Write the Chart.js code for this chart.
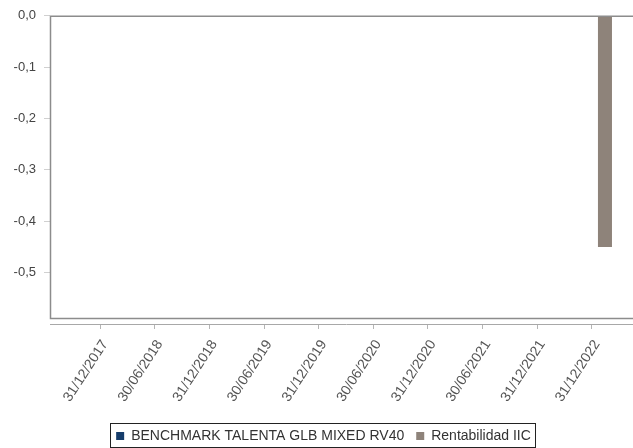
<!DOCTYPE html>
<html><head><meta charset="utf-8">
<script src="https://cdn.jsdelivr.net/npm/chart.js@4.4.1/dist/chart.umd.min.js"></script>
<style>
html,body{margin:0;padding:0;background:#fff;overflow:hidden;}
#wrap{position:relative;width:642px;height:455px;}
</style></head><body>
<div id="wrap"><canvas id="c"></canvas></div>
<script>
const categories = ['31/12/2017','30/06/2018','31/12/2018','30/06/2019','31/12/2019','30/06/2020','31/12/2020','30/06/2021','31/12/2021','31/12/2022'];
const benchmarkValues = [null,null,null,null,null,null,null,null,null,null];
const fundValues = [null,null,null,null,null,null,null,null,null,-0.45];
const yTicks = [0,-0.1,-0.2,-0.3,-0.4,-0.5];
const seriesNames = ['BENCHMARK TALENTA GLB MIXED RV40','Rentabilidad IIC'];

const FONT = 'Liberation Sans, Arial, sans-serif';

const framePlugin = {
  id:'frame',
  afterDatasetsDraw(chart){
    const {ctx, chartArea:a} = chart;
    ctx.save();
    ctx.strokeStyle = '#8c8c8c';
    ctx.lineWidth = 1.5;
    ctx.beginPath();
    ctx.moveTo(a.right + 2, a.top + 0.5);
    ctx.lineTo(a.left + 0.5, a.top + 0.5);
    ctx.lineTo(a.left + 0.5, a.bottom - 5.5);
    ctx.lineTo(a.right + 2, a.bottom - 5.5);
    ctx.stroke();
    ctx.restore();
  },
  afterDraw(chart){
    const lg = chart.legend;
    if (!lg || !lg.legendHitBoxes || !lg.legendHitBoxes.length) return;
    const hb = lg.legendHitBoxes;
    let l = Infinity, r = -Infinity, t = Infinity, b = -Infinity;
    hb.forEach(h => { l = Math.min(l, h.left); r = Math.max(r, h.left + h.width); t = Math.min(t, h.top); b = Math.max(b, h.top + h.height); });
    const ctx = chart.ctx;
    ctx.save();
    ctx.strokeStyle = '#222';
    ctx.lineWidth = 1;
    ctx.strokeRect(Math.round(l - 6) + 0.5, Math.round(t - 6) + 0.5, Math.round(r - l + 10), Math.round(b - t + 10));
    ctx.restore();
  }
};

new Chart(document.getElementById('c'), {
  type: 'bar',
  data: {
    datasets: [
      { label: seriesNames[0], data: categories.map((c,i)=>({x:i, y:benchmarkValues[i]})), backgroundColor:'#163d6b', borderWidth:0, categoryPercentage:0.95, barPercentage:0.54 },
      { label: seriesNames[1], data: categories.map((c,i)=>({x:i, y:fundValues[i]})), backgroundColor:'#8e837a', borderWidth:0, categoryPercentage:0.95, barPercentage:0.54 }
    ]
  },
  options: {
    responsive: true,
    maintainAspectRatio: false,
    animation: false,
    devicePixelRatio: 1,
    layout: { padding: { left:5, right:0, top:15, bottom:2 } },
    plugins: {
      tooltip: { enabled:false },
      legend: {
        position: 'bottom',
        labels: { boxWidth:8, boxHeight:8, padding:12, color:'#333', font:{family:FONT, size:14} }
      }
    },
    scales: {
      x: {
        type: 'linear',
        offset: false,
        min: -0.915, max: 9.915,
        afterBuildTicks: s => { s.ticks = categories.map((c,i)=>({value:i})); },
        afterFit: s => { s.height = 93; },
        ticks: {
          callback: (v) => categories[v] !== undefined ? categories[v] : '',
          autoSkip: false, minRotation: 57, maxRotation: 57,
          color:'#555', font:{family:FONT, size:14}, padding: 8, labelOffset: 5
        },
        grid: { offset:false, drawOnChartArea:false, drawTicks:true, tickLength:5, color:'#b5b5b5' },
        border: { display:true, color:'#a8a8a8', width:1 }
      },
      y: {
        min: -0.6, max: 0,
        afterBuildTicks: s => { s.ticks = yTicks.map(v=>({value:v})); },
        afterFit: s => { s.width = 45; },
        ticks: {
          callback: v => v.toFixed(1).replace('.', ','),
          color:'#444', font:{family:FONT, size:13}, padding: 8
        },
        grid: { drawOnChartArea:false, drawTicks:true, tickLength:6, color:'#d0d0d0' },
        border: { display:false }
      }
    }
  },
  plugins: [framePlugin]
});
</script>
</body></html>
